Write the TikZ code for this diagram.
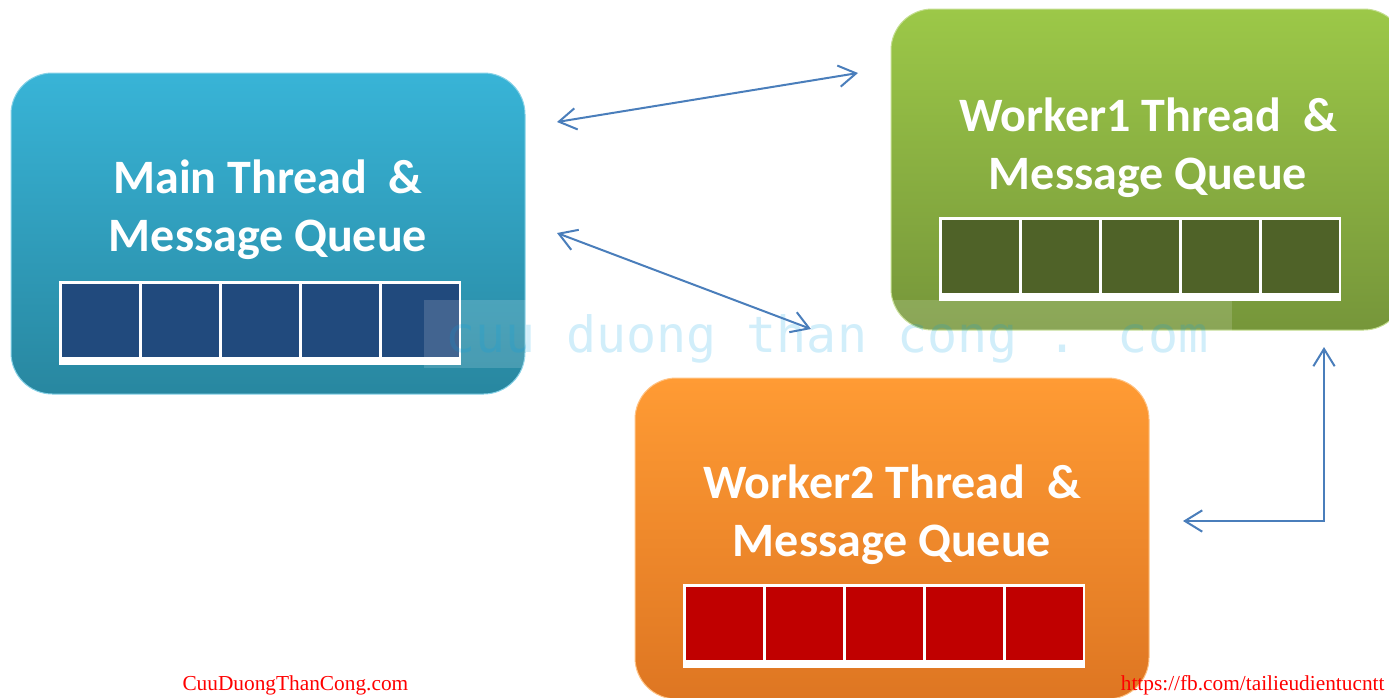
\documentclass[tikz,border=0pt]{standalone}
\usepackage{fontspec}
\setmainfont{Carlito}
\newfontfamily\footfont{Liberation Serif}
\newfontfamily\markfont{DejaVu Sans Mono}
\usepackage{tikz}
\usetikzlibrary{positioning}
\usetikzlibrary{arrows.meta}
\tikzset{every picture/.style={line width=0.75pt}}

\definecolor{mainTop}{RGB}{56,180,215}
\definecolor{mainBot}{RGB}{40,135,160}
\definecolor{workOneTop}{RGB}{156,200,72}
\definecolor{workOneBot}{RGB}{118,150,58}
\definecolor{workTwoTop}{RGB}{255,155,52}
\definecolor{workTwoBot}{RGB}{222,118,34}
\definecolor{mainCell}{RGB}{33,74,125}
\definecolor{workOneCell}{RGB}{79,98,40}
\definecolor{workTwoCell}{RGB}{192,0,0}
\definecolor{linkBlue}{RGB}{74,126,187}
\definecolor{markBlue}{RGB}{0,160,230}

\tikzset{
  threadbox/.style={rounded corners=31pt, minimum width=385.5pt, minimum height=240.75pt,
    top color=#1Top, bottom color=#1Bot, draw=#1Top!60!white, line width=0.75pt},
  threadtext/.style={text=white, font=\fontsize{36}{43.5}\selectfont\bfseries, align=center},
  link/.style={draw=linkBlue, line width=1.5pt,
    {Straight Barb[length=13pt,width=16pt]}-{Straight Barb[length=13pt,width=16pt]}},
  footer/.style={text=red, font=\footfont\fontsize{16}{19}\selectfont, inner sep=0pt},
  marktext/.style={text=markBlue, text opacity=0.18, font=\markfont\fontsize{37.5}{40}\selectfont, inner sep=0pt},
  pics/queue/.style={code={
    \fill[white] (-201,-42) rectangle (201,42);
    \foreach \i in {0,...,4}
      \fill[#1] (-198+80*\i,-34) rectangle (-121+80*\i,39);
  }}
}

\begin{document}
\begin{tikzpicture}[x=0.75pt,y=0.75pt,yscale=-1,xscale=1]
\useasboundingbox (0,0) rectangle (1389,697);

%Rounded Rect: main thread
\node [threadbox=main] (main) at (268,233.5) {};
%Rounded Rect: worker1 thread
\node [threadbox=workOne] (workOne) at (1148,169.5) {};
%Rounded Rect: worker2 thread
\node [threadbox=workTwo] (workTwo) at (892,538.5) {};

% Text Node
\node [threadtext] (mainText) at ([yshift=-17.6pt]main.center) {Main Thread\ \ \&\\Message Queue};
\node [threadtext] (workOneText) at ([yshift=-16.5pt]workOne.center) {Worker1 Thread\ \ \&\\Message Queue};
\node [threadtext] (workTwoText) at ([yshift=-17.9pt]workTwo.center) {Worker2 Thread\ \ \&\\Message Queue};

%Queues
\pic at ([xshift=-6pt,yshift=67pt]main.center) {queue=mainCell};
\pic at ([xshift=-6pt,yshift=66.75pt]workOne.center) {queue=workOneCell};
\pic at ([xshift=-6pt,yshift=65.6pt]workTwo.center) {queue=workTwoCell};

%Watermark
\fill [white, opacity=0.15] (424,300) rectangle (1232,368);
\node [marktext, anchor=base] (mark) at (827,352) {cuu duong than cong . com};

%Straight Lines
\coordinate (mainUp) at (557,122);
\coordinate (workOneIn) at (858,73);
\coordinate (mainDown) at (557,233);
\coordinate (workTwoIn) at (811,329);
\coordinate (workTwoOut) at (1183,521);
\coordinate (bend) at (1324,521);
\coordinate (workOneOut) at (1324,347);
\draw [link] (mainUp) -- (workOneIn);
\draw [link] (mainDown) -- (workTwoIn);
\draw [link] (workTwoOut) -- (bend) -- (workOneOut);

% Text Node
\node [footer, anchor=base west] (siteName) at (182,690) {CuuDuongThanCong.com};
\node [footer, anchor=base east] (siteLink) at (1385,690) {https://fb.com/tailieudientucntt};

\end{tikzpicture}
\end{document}
